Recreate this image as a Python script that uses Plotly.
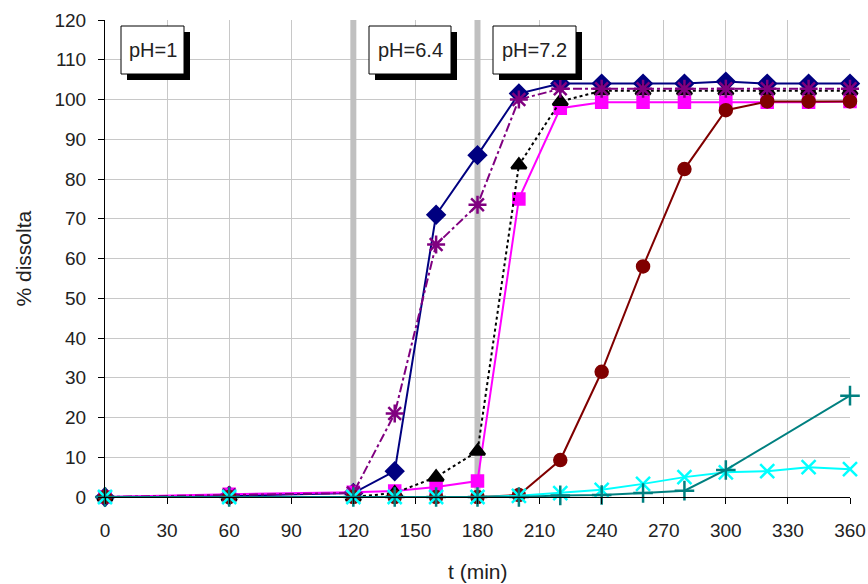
import plotly.graph_objects as go

# ---------------- data ----------------
t = [0, 60, 120, 140, 160, 180, 200, 220, 240, 260, 280, 300, 320, 340, 360]
navy_vals = [0, 0.3, 1, 6.5, 71, 86, 101.5, 104, 104, 104, 104, 104.5, 104, 104, 104]
purple_vals = [0, 0.5, 1, 21, 63.5, 73.5, 100, 102.7, 102.7, 102.7, 102.7, 102.7, 102.7, 102.7, 102.7]
black_vals = [0, 0, 0, 1, 5, 11.5, 83.5, 99.5, 102.2, 102.2, 102.2, 102.2, 102.2, 102.2, 102.2]
magenta_vals = [0, 0.7, 1.2, 1.5, 2.5, 4, 75, 97.8, 99.3, 99.3, 99.3, 99.3, 99.3, 99.3, 99.5]
darkred_vals = [0, 0, 0, 0, 0, 0, 0.5, 9.3, 31.5, 58, 82.5, 97.3, 99.5, 99.5, 99.5]
cyan_vals = [0, 0, 0, 0, 0, 0, 0.3, 1, 1.8, 3.3, 5, 6.2, 6.5, 7.5, 7]
t_teal = [0, 60, 120, 140, 160, 180, 200, 220, 240, 260, 280, 300, 360]
teal_vals = [0, 0, 0, 0, 0, 0, 0, 0.4, 0.5, 1.0, 1.6, 6.8, 25.5]

ph_changes = [120, 180]
ph_labels = ["pH=1", "pH=6.4", "pH=7.2"]
x_ticks = list(range(0, 361, 30))
y_ticks = list(range(0, 121, 10))

# ---------------- layout geometry (pixels) ----------------
W, H = 868, 584
L, R, T, B = 105, 18, 20, 87
plot_w = W - L - R
plot_h = H - T - B


def px2x(px):
    return (px - L) / plot_w * 360


def py2y(py):
    return (H - B - py) / plot_h * 120


FONT = "Liberation Sans, Arial, sans-serif"

fig = go.Figure()

series = [
    (t, navy_vals, "#000080", "solid", "diamond", 13),
    (t, magenta_vals, "#FF00FF", "solid", "square", 11),
    (t, black_vals, "#000000", "dot", "triangle-up", 13),
    (t, purple_vals, "#800080", "dashdot", "asterisk-open", 15),
    (t, darkred_vals, "#800000", "solid", "circle", 12),
    (t, cyan_vals, "#00FFFF", "solid", "x-thin-open", 14),
    (t_teal, teal_vals, "#008080", "solid", "cross-thin-open", 14),
]
for xs, ys, col, dash, sym, size in series:
    fig.add_trace(go.Scatter(
        x=xs, y=ys, mode="lines+markers",
        line=dict(color=col, width=2, dash=dash),
        marker=dict(color=col, symbol=sym, size=size,
                    line=dict(color=col, width=2.5)),
        cliponaxis=False, showlegend=False,
    ))

shapes = []
for xc in ph_changes:
    shapes.append(dict(type="line", xref="x", yref="y", x0=xc, x1=xc, y0=0, y1=120,
                       line=dict(color="#c0c0c0", width=6), layer="between"))

# label boxes (pixel positions of the boxes)
boxes = [(121, 184), (369, 451), (493, 576)]
top_px, bot_px = 26, 74
shadow = 6
annotations = []
for (x0p, x1p), lab in zip(boxes, ph_labels):
    shapes.append(dict(type="rect", xref="x", yref="y",
                       x0=px2x(x0p + shadow), x1=px2x(x1p + shadow),
                       y0=py2y(bot_px + shadow), y1=py2y(top_px + shadow),
                       fillcolor="black", line=dict(width=0), layer="above"))
    shapes.append(dict(type="rect", xref="x", yref="y",
                       x0=px2x(x0p), x1=px2x(x1p), y0=py2y(bot_px), y1=py2y(top_px),
                       fillcolor="white", line=dict(color="black", width=1), layer="above"))
    annotations.append(dict(x=px2x((x0p + x1p) / 2), y=py2y((top_px + bot_px) / 2),
                            xref="x", yref="y", text=lab, showarrow=False,
                            font=dict(family=FONT, size=20, color="#222222"),
                            xanchor="center", yanchor="middle"))

annotations.append(dict(x=0, y=0.5, xref="paper", yref="paper", text="% dissolta",
                        textangle=-90, showarrow=False, xshift=-(L - 23),
                        xanchor="center", yanchor="middle",
                        font=dict(family=FONT, size=21, color="#222222")))
annotations.append(dict(x=0.5, y=0, xref="paper", yref="paper", text="t (min)",
                        showarrow=False, yshift=-(571 - (H - B)),
                        xanchor="center", yanchor="middle", borderpad=0,
                        font=dict(family=FONT, size=21, color="#222222")))

fig.update_layout(
    width=W, height=H,
    margin=dict(l=L, r=R, t=T, b=B, pad=0),
    paper_bgcolor="white", plot_bgcolor="white",
    shapes=shapes, annotations=annotations,
    xaxis=dict(range=[0, 360], tickvals=x_ticks, ticktext=[str(v) for v in x_ticks],
               showgrid=True, gridcolor="#c8c8c8", gridwidth=1,
               showline=True, linecolor="black", linewidth=1,
               ticks="outside", ticklen=6, tickcolor="black",
               ticklabelstandoff=10, zeroline=False, automargin=False,
               tickfont=dict(family=FONT, size=19, color="#222222")),
    yaxis=dict(range=[0, 120], tickvals=y_ticks, ticktext=[str(v) for v in y_ticks],
               showgrid=True, gridcolor="#c8c8c8", gridwidth=1,
               showline=True, linecolor="black", linewidth=1,
               ticks="outside", ticklen=6, tickcolor="black",
               ticklabelstandoff=8, zeroline=False, automargin=False,
               tickfont=dict(family=FONT, size=19, color="#222222")),
)

fig.write_html("out.html")
